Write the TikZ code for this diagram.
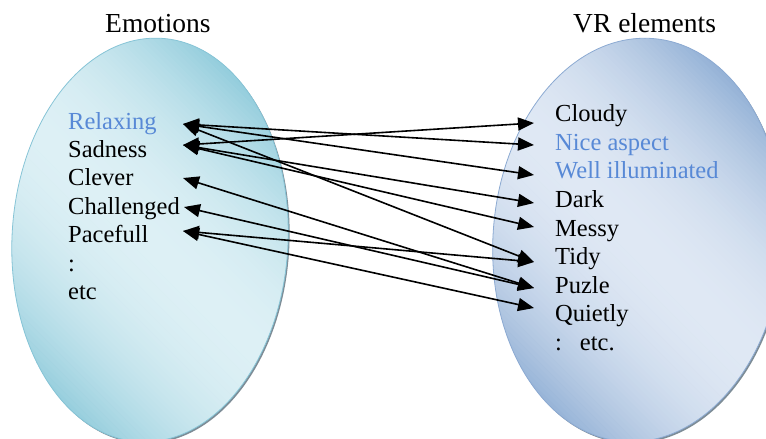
\documentclass[tikz,border=0pt]{standalone}
\usepackage{fontspec}
\setmainfont{Liberation Serif}
\usetikzlibrary{arrows.meta}

\definecolor{aquaDark}{RGB}{146,204,220}
\definecolor{aquaLight}{RGB}{221,240,245}
\definecolor{aquaEdge}{RGB}{134,196,214}
\definecolor{blueDark}{RGB}{150,179,215}
\definecolor{blueLight}{RGB}{223,232,244}
\definecolor{blueEdge}{RGB}{140,170,210}
\definecolor{accentText}{RGB}{88,137,214}
\definecolor{rimGray}{RGB}{125,140,150}

% diagonal gradient (dark - light - dark) filling a clipped area
\newcommand{\diagbands}[4]{% centre x, centre y, light colour, dark colour
  \begin{scope}[shift={(#1,#2)}, rotate=-45]
    \foreach \t in {-184,-180,...,184} {
      \pgfmathsetmacro\p{max(0,100*(1-(\t/180)^2))}
      \fill[#3!\p!#4] (-320,\t) rectangle (320,\t+4.6);
    }
  \end{scope}}

\begin{document}
\begin{tikzpicture}[x=1pt,y=-1pt,
  item/.style={anchor=base west, inner sep=0pt, font=\fontsize{24.5}{28}\selectfont},
  heading/.style={anchor=base west, inner sep=0pt, font=\fontsize{27.5}{32}\selectfont},
  hl/.style={text=accentText},
  link/.style={line width=1.6pt, >={Triangle[length=16pt,width=13pt]}, <->}]
\useasboundingbox (0,0) rectangle (766,439);

% left set: emotions
\fill[rimGray, rotate around={-3:(150,240)}] (151.5,241.5) ellipse [x radius=138, y radius=202];
\begin{scope}
  \clip[rotate around={-3:(150,240)}] (150,240) ellipse [x radius=138, y radius=202];
  \diagbands{150}{240}{aquaLight}{aquaDark}
\end{scope}
\draw[aquaEdge, line width=0.8pt, rotate around={-3:(150,240)}]
  (150,240) ellipse [x radius=138, y radius=202];

% right set: VR elements
\fill[rimGray, rotate around={-4:(638,240)}] (639.5,241.5) ellipse [x radius=145, y radius=202];
\begin{scope}
  \clip[rotate around={-4:(638,240)}] (638,240) ellipse [x radius=145, y radius=202];
  \diagbands{638}{240}{blueLight}{blueDark}
\end{scope}
\draw[blueEdge, line width=0.8pt, rotate around={-4:(638,240)}]
  (638,240) ellipse [x radius=145, y radius=202];

% headings
\node[heading] (emo) at (105,32) {Emotions};
\node[heading] (vr) at (573,32) {VR elements};

% emotions
\node[item,hl] (relax) at (68,129) {Relaxing};
\node[item] (sad) at (68,157) {Sadness};
\node[item] (clever) at (68,185.5) {Clever};
\node[item] (chall) at (68,214) {Challenged};
\node[item] (pace) at (68,242) {Pacefull};
\node[item] (ldots) at (68,271) {:};
\node[item] (letc) at (68,299) {etc};

% VR elements
\node[item] (cloudy) at (555,121) {Cloudy};
\node[item,hl] (nice) at (555,150) {Nice aspect};
\node[item,hl] (well) at (555,178) {Well illuminated};
\node[item] (dark) at (555,207) {Dark};
\node[item] (messy) at (555,236) {Messy};
\node[item] (tidy) at (555,264.5) {Tidy};
\node[item] (puzle) at (555,293) {Puzle};
\node[item] (quiet) at (555,321.5) {Quietly};
\node[item] (retc) at (555,350) {:\hspace{18pt}etc.};

% arrow ends beside the labels
\coordinate (tRel) at (183,124);
\coordinate (tSad) at (183,145);
\coordinate (tCle) at (183,178);
\coordinate (tCha) at (184,207);
\coordinate (tPac) at (183,231);
\coordinate (tClo) at (534,123);
\coordinate (tNic) at (534,145);
\coordinate (tWel) at (534,175);
\coordinate (tDar) at (534,203);
\coordinate (tMes) at (534,227);
\coordinate (tTid) at (534,262);
\coordinate (tPuz) at (534,288);
\coordinate (tQui) at (534,308);

% links
\draw[link] (tRel) -- (tNic);
\draw[link] (tRel) -- (tWel);
\draw[link] (tRel) -- (tTid);
\draw[link] (tSad) -- (tClo);
\draw[link] (tSad) -- (tDar);
\draw[link] (tSad) -- (tMes);
\draw[link] (tCle) -- (tPuz);
\draw[link] (tCha) -- (tPuz);
\draw[link] (tPac) -- (tTid);
\draw[link] (tPac) -- (tQui);
\end{tikzpicture}
\end{document}
